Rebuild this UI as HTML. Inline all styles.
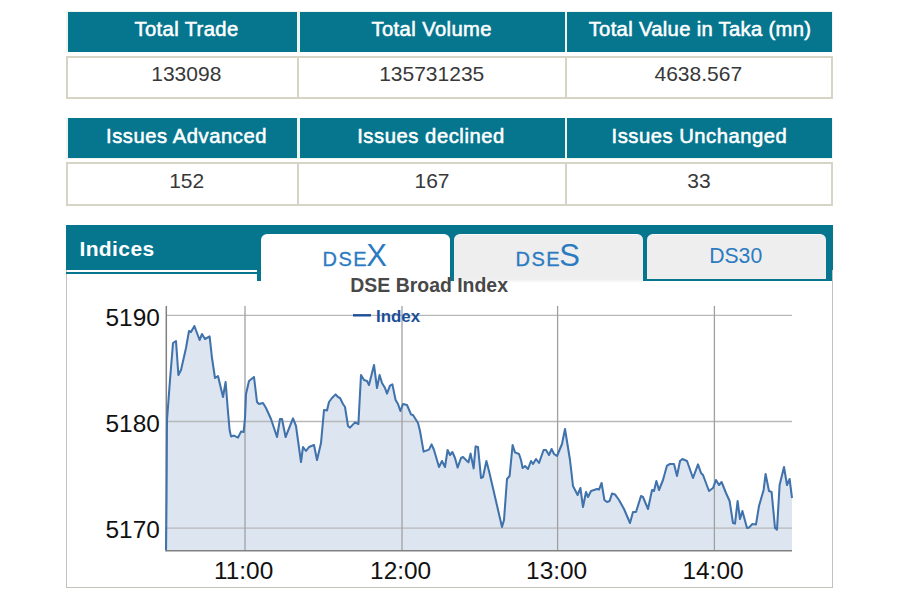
<!DOCTYPE html>
<html><head><meta charset="utf-8">
<style>
html,body{margin:0;padding:0;background:#fff;}
body{width:900px;height:600px;position:relative;overflow:hidden;font-family:"Liberation Sans",sans-serif;}
.abs{position:absolute;}
.th{position:absolute;background:#06768f;height:40.4px;}
.tht{position:absolute;color:#fff;font-size:20.2px;-webkit-text-stroke:0.55px #fff;line-height:20px;white-space:nowrap;transform:translateX(-50%);}
.tdt{position:absolute;color:#383838;font-size:21px;line-height:20px;white-space:nowrap;transform:translateX(-50%);}
.vb{position:absolute;border:2px solid #d6d4c4;box-sizing:border-box;background:#fff;}
.vd{position:absolute;width:1.9px;background:#d6d4c4;}
.hb{position:absolute;background:#eef5ee;}
.tab{position:absolute;box-sizing:border-box;border-radius:6px 6px 0 0;}
.tabt{position:absolute;color:#2b7bc2;white-space:nowrap;transform:translateX(-50%);}
</style></head><body>

<!-- table 1 -->
<div class="hb" style="left:66.3px;top:10.8px;width:766.7px;height:41.6px;"></div>
<div class="th" style="left:67.7px;top:11.6px;width:229.2px;"></div>
<div class="th" style="left:299.5px;top:11.6px;width:265px;"></div>
<div class="th" style="left:567px;top:11.6px;width:265.3px;"></div>
<div class="tht" style="left:186.5px;top:18.7px;letter-spacing:0.38px;">Total Trade</div>
<div class="tht" style="left:431.7px;top:18.7px;letter-spacing:0.42px;">Total Volume</div>
<div class="tht" style="left:700px;top:18.7px;letter-spacing:0.33px;">Total Value in Taka (mn)</div>
<div class="vb" style="left:66px;top:55.6px;width:767.3px;height:43px;"></div>
<div class="vd" style="left:297.3px;top:56px;height:41.7px;"></div>
<div class="vd" style="left:565px;top:56px;height:41.7px;"></div>
<div class="tdt" style="left:186.3px;top:64px;">133098</div>
<div class="tdt" style="left:431.7px;top:64px;">135731235</div>
<div class="tdt" style="left:698.3px;top:64px;">4638.567</div>

<!-- table 2 -->
<div class="hb" style="left:66.3px;top:117.7px;width:766.7px;height:41px;"></div>
<div class="th" style="left:67.7px;top:118.4px;height:40px;width:229.2px;"></div>
<div class="th" style="left:299.5px;top:118.4px;height:40px;width:265px;"></div>
<div class="th" style="left:567px;top:118.4px;height:40px;width:265.3px;"></div>
<div class="tht" style="left:186.5px;top:125.7px;letter-spacing:0.56px;">Issues Advanced</div>
<div class="tht" style="left:431px;top:125.7px;letter-spacing:0.57px;">Issues declined</div>
<div class="tht" style="left:699.4px;top:125.7px;letter-spacing:0.53px;">Issues Unchanged</div>
<div class="vb" style="left:66px;top:162.4px;width:767.3px;height:43.4px;"></div>
<div class="vd" style="left:297.3px;top:163px;height:41.7px;"></div>
<div class="vd" style="left:565px;top:163px;height:41.7px;"></div>
<div class="tdt" style="left:186.7px;top:171px;">152</div>
<div class="tdt" style="left:432px;top:171px;">167</div>
<div class="tdt" style="left:699px;top:171px;">33</div>

<!-- indices panel -->
<div class="abs" style="left:65.8px;top:270px;width:767.2px;height:317.5px;box-sizing:border-box;border:1.8px solid #c2c2ba;border-top:none;background:#fff;"></div>
<div class="abs" style="left:65.6px;top:225px;width:767.7px;height:45px;background:#06768f;"></div>
<div class="abs" style="left:65.6px;top:272px;width:195px;height:2px;background:#06768f;"></div>
<div class="abs" style="left:257.3px;top:270px;width:574.4px;height:10.7px;background:#06768f;"></div>
<div class="abs" style="left:79.4px;top:238px;color:#fff;font-weight:bold;font-size:21px;line-height:22px;letter-spacing:0.4px;">Indices</div>
<!-- tabs -->
<div class="tab" style="left:260.7px;top:233.5px;width:189.7px;height:50px;background:#fff;"></div>
<div class="tab" style="left:454px;top:233.5px;width:189.3px;height:49px;background:linear-gradient(#eeeeee 0,#eeeeee 92%,#ffffff 100%);border-top:1px solid #fafafa;"></div>
<div class="tab" style="left:647.3px;top:233.5px;width:178.4px;height:45.3px;background:#eeeeee;border-top:1px solid #fafafa;"></div>
<div class="tabt" style="left:354.8px;top:239px;font-size:20px;line-height:34px;letter-spacing:1.4px;-webkit-text-stroke:0.3px #2b7bc2;">DSE<span style="font-size:31px;letter-spacing:0;-webkit-text-stroke:0;margin-left:-1.6px;">X</span></div>
<div class="tabt" style="left:547.8px;top:239px;font-size:20px;line-height:34px;letter-spacing:1.4px;-webkit-text-stroke:0.3px #2b7bc2;">DSE<span style="font-size:31px;letter-spacing:0;-webkit-text-stroke:0;margin-left:-1.6px;">S</span></div>
<div class="tabt" style="left:735.7px;top:244.8px;font-size:21.2px;line-height:22px;">DS30</div>

<svg class="abs" style="left:0;top:0;" width="900" height="600" viewBox="0 0 900 600">
  <polygon points="166,550 166.5,500 167,420 168.5,400 170,380 173,343 176,341 178.4,375 181,370 186,348 189,331 191,332 194.4,326 197,333 199.6,340 202,334 205,339 209.6,336.4 212,358 215,378 218,376 223,397 225.6,382 228,412 229.6,430 231,436.4 234,435.6 238,437.6 241,431.6 243.6,432 245,418 246,394 249,381 254,377 257,402 259,404 263,403 266,408 271,419 277,437 280,419 282,419 285.6,437 293,418.4 296,426 301,462 303,447 306,451 309,447 314,445 317,460 321,443 324,410 327,410.4 329,402 332,398 335.6,394.4 338,397 340,398 343,404 345,407 348,426 350,427.6 355,422.4 358.4,424 361,375 364,380 367,381 369,385 374,365 377,388 379.6,375 382,383 385,388 387,393.6 390,385.6 392.4,384.4 395.6,400 398,404 400.4,411 403,404 407,405 411,414.4 413,415 418,423 420,431 423.6,451.6 429,449.6 431.6,444.4 434,450 439,467 442,461 445,467 447.6,450 450,455 452.4,452 455,458 457.6,467.6 461,458 463,457 468.4,462.4 470.6,453.6 473.6,468.4 475.6,446.4 478,447 481,478 483,477 486.4,461 489,471 502,527 504,520 507,479 509.6,476 512.6,445 515,452.4 519,454 521,460 522.6,468 525,466 528,469 531,461 533,464 536,459 539,463 543.6,450 546,450 549,455 551.6,449 554,454 557,456 562,444 565,429 570,460 573,486 577.6,495 580.4,488 583,507 586,492 588,497 591,491 597,489 599,489.6 601.6,483 604.4,500 607,502 609.6,501 612,493.6 615,494.4 619,500 624,509 630,523 633,512 636,512 641,496 643,497 648,509 652,490 654,491 656.4,481 659,490 663,480 667,465.6 670,464 674,464 677,476 680,461 682.4,459 687,461 693,478 698,464.4 701,473 703,475 709,491 713,488 716,480 719,485 721.6,482 726,493 729.6,501 733,523 735,523.6 737.6,501 740,519 742.4,511 747,528 749,527.6 752.4,524 756,524.4 759,506 763.6,490 765.6,474 769,491 771.6,492 775,528 777,529.6 779.6,485 784,467 787,485 789.6,479 792,498 792,550.5 166,550.5" fill="#dde5f0"/>
  <g stroke="#b8b8b8" stroke-width="1.3" fill="none">
    <line x1="166" y1="315.3" x2="792" y2="315.3"/>
    <line x1="166" y1="421.5" x2="792" y2="421.5"/>
    <line x1="166" y1="528.2" x2="792" y2="528.2"/>
  </g>
  <g stroke="#a0a0a0" stroke-width="1.3" fill="none">
    <line x1="245" y1="306" x2="245" y2="550"/>
    <line x1="402" y1="306" x2="402" y2="550"/>
    <line x1="557.6" y1="306" x2="557.6" y2="550"/>
    <line x1="714.4" y1="306" x2="714.4" y2="550"/>
  </g>
  <g stroke="#808080" stroke-width="1.5" fill="none">
    <line x1="166.3" y1="306" x2="166.3" y2="551.4"/>
    <line x1="165.5" y1="550.7" x2="792" y2="550.7"/>
  </g>
  <polyline points="166,550 166.5,500 167,420 168.5,400 170,380 173,343 176,341 178.4,375 181,370 186,348 189,331 191,332 194.4,326 197,333 199.6,340 202,334 205,339 209.6,336.4 212,358 215,378 218,376 223,397 225.6,382 228,412 229.6,430 231,436.4 234,435.6 238,437.6 241,431.6 243.6,432 245,418 246,394 249,381 254,377 257,402 259,404 263,403 266,408 271,419 277,437 280,419 282,419 285.6,437 293,418.4 296,426 301,462 303,447 306,451 309,447 314,445 317,460 321,443 324,410 327,410.4 329,402 332,398 335.6,394.4 338,397 340,398 343,404 345,407 348,426 350,427.6 355,422.4 358.4,424 361,375 364,380 367,381 369,385 374,365 377,388 379.6,375 382,383 385,388 387,393.6 390,385.6 392.4,384.4 395.6,400 398,404 400.4,411 403,404 407,405 411,414.4 413,415 418,423 420,431 423.6,451.6 429,449.6 431.6,444.4 434,450 439,467 442,461 445,467 447.6,450 450,455 452.4,452 455,458 457.6,467.6 461,458 463,457 468.4,462.4 470.6,453.6 473.6,468.4 475.6,446.4 478,447 481,478 483,477 486.4,461 489,471 502,527 504,520 507,479 509.6,476 512.6,445 515,452.4 519,454 521,460 522.6,468 525,466 528,469 531,461 533,464 536,459 539,463 543.6,450 546,450 549,455 551.6,449 554,454 557,456 562,444 565,429 570,460 573,486 577.6,495 580.4,488 583,507 586,492 588,497 591,491 597,489 599,489.6 601.6,483 604.4,500 607,502 609.6,501 612,493.6 615,494.4 619,500 624,509 630,523 633,512 636,512 641,496 643,497 648,509 652,490 654,491 656.4,481 659,490 663,480 667,465.6 670,464 674,464 677,476 680,461 682.4,459 687,461 693,478 698,464.4 701,473 703,475 709,491 713,488 716,480 719,485 721.6,482 726,493 729.6,501 733,523 735,523.6 737.6,501 740,519 742.4,511 747,528 749,527.6 752.4,524 756,524.4 759,506 763.6,490 765.6,474 769,491 771.6,492 775,528 777,529.6 779.6,485 784,467 787,485 789.6,479 792,498" fill="none" stroke="#4072ab" stroke-width="2.05" stroke-linejoin="round"/>
  <line x1="353" y1="315.3" x2="371" y2="315.3" stroke="#1b4f98" stroke-width="2.4"/>
  <g font-family="Liberation Sans, sans-serif" font-size="24.4" fill="#111">
    <text x="159.8" y="326.3" text-anchor="end">5190</text>
    <text x="159.8" y="432.3" text-anchor="end">5180</text>
    <text x="159.8" y="538.3" text-anchor="end">5170</text>
    <text x="243.6" y="579" text-anchor="middle">11:00</text>
    <text x="400.6" y="579" text-anchor="middle">12:00</text>
    <text x="556.6" y="579" text-anchor="middle">13:00</text>
    <text x="713" y="579" text-anchor="middle">14:00</text>
  </g>
  <text x="350.3" y="291.5" font-family="Liberation Sans, sans-serif" font-size="19.45" font-weight="bold" fill="#484848">DSE Broad Index</text>
  <text x="376" y="321.5" font-family="Liberation Sans, sans-serif" font-size="16.9" font-weight="bold" fill="#1b4f98">Index</text>
</svg>
</body></html>
